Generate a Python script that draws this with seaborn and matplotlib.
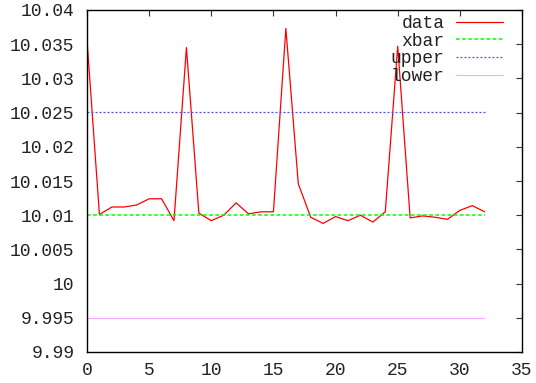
import numpy as np
import pandas as pd
import matplotlib
matplotlib.use("Agg")
import matplotlib.pyplot as plt
import seaborn as sns

# Individual measurements
samples = list(range(33))
data = [10.0356, 10.0101, 10.0112, 10.0112, 10.0115, 10.0124, 10.0124, 10.0092,
        10.0345, 10.0103, 10.0092, 10.0100, 10.0118, 10.0102, 10.0105, 10.0105,
        10.0373, 10.0146, 10.0097, 10.0088, 10.0098, 10.0092, 10.0100, 10.0090,
        10.0105, 10.0347, 10.0096, 10.0099, 10.0097, 10.0094, 10.0107, 10.0114,
        10.0105]
# Centre line and control limits
xbar = 10.01005
upper = 10.0251
lower = 9.9950

x_ticks = [0, 5, 10, 15, 20, 25, 30, 35]
y_ticks = [9.99, 9.995, 10.0, 10.005, 10.01, 10.015, 10.02, 10.025, 10.03, 10.035, 10.04]
y_tick_labels = ["9.99", "9.995", "10", "10.005", "10.01", "10.015", "10.02",
                 "10.025", "10.03", "10.035", "10.04"]

df = pd.DataFrame({
    "sample": samples,
    "data": data,
    "xbar": [xbar] * len(samples),
    "upper": [upper] * len(samples),
    "lower": [lower] * len(samples),
})

sns.set_style("white")
plt.rcParams["font.family"] = ["Liberation Mono", "DejaVu Sans Mono"]
plt.rcParams["font.size"] = 13

fig = plt.figure(figsize=(5.36, 3.83), dpi=100)
ax = fig.add_axes([87 / 536, 1 - 352 / 383, (522 - 87) / 536, (352 - 10) / 383])

styles = {
    "data": dict(color="#ff0000", linestyle="-", linewidth=0.9),
    "xbar": dict(color="#00ff00", linestyle=(0, (2.4, 1.6)), linewidth=1.1),
    "upper": dict(color="#5050ff", linestyle=(0, (1.6, 1.6)), linewidth=0.9),
    "lower": dict(color="#ff60ff", linestyle=(0, (1.0, 0.8)), linewidth=0.8),
}
for name in ["data", "xbar", "upper", "lower"]:
    sns.lineplot(data=df, x="sample", y=name, ax=ax, label=name, **styles[name])

ax.set_xlim(0, 35)
ax.set_ylim(9.99, 10.04)
ax.set_xticks(x_ticks)
ax.set_yticks(y_ticks)
ax.set_yticklabels(y_tick_labels)
ax.set_xlabel("")
ax.set_ylabel("")

for s in ax.spines.values():
    s.set_color("black")
    s.set_linewidth(1.0)
    s.set_visible(True)

ax.tick_params(axis="both", which="both", direction="in", length=4, width=0.8,
               top=True, right=True, labelsize=13, colors="#333333",
               labelcolor="#222222")
ax.tick_params(axis="y", pad=9)
ax.tick_params(axis="x", pad=7)

leg = ax.legend(loc="upper right", markerfirst=False, frameon=False,
                bbox_to_anchor=(503 / 536, 1 - 15 / 383),
                bbox_transform=fig.transFigure,
                borderpad=0, borderaxespad=0, handlelength=2.6,
                handletextpad=0.65, labelspacing=0.04, fontsize=13)
for t in leg.get_texts():
    t.set_color("#222222")

fig.savefig("out.png", dpi=100)
